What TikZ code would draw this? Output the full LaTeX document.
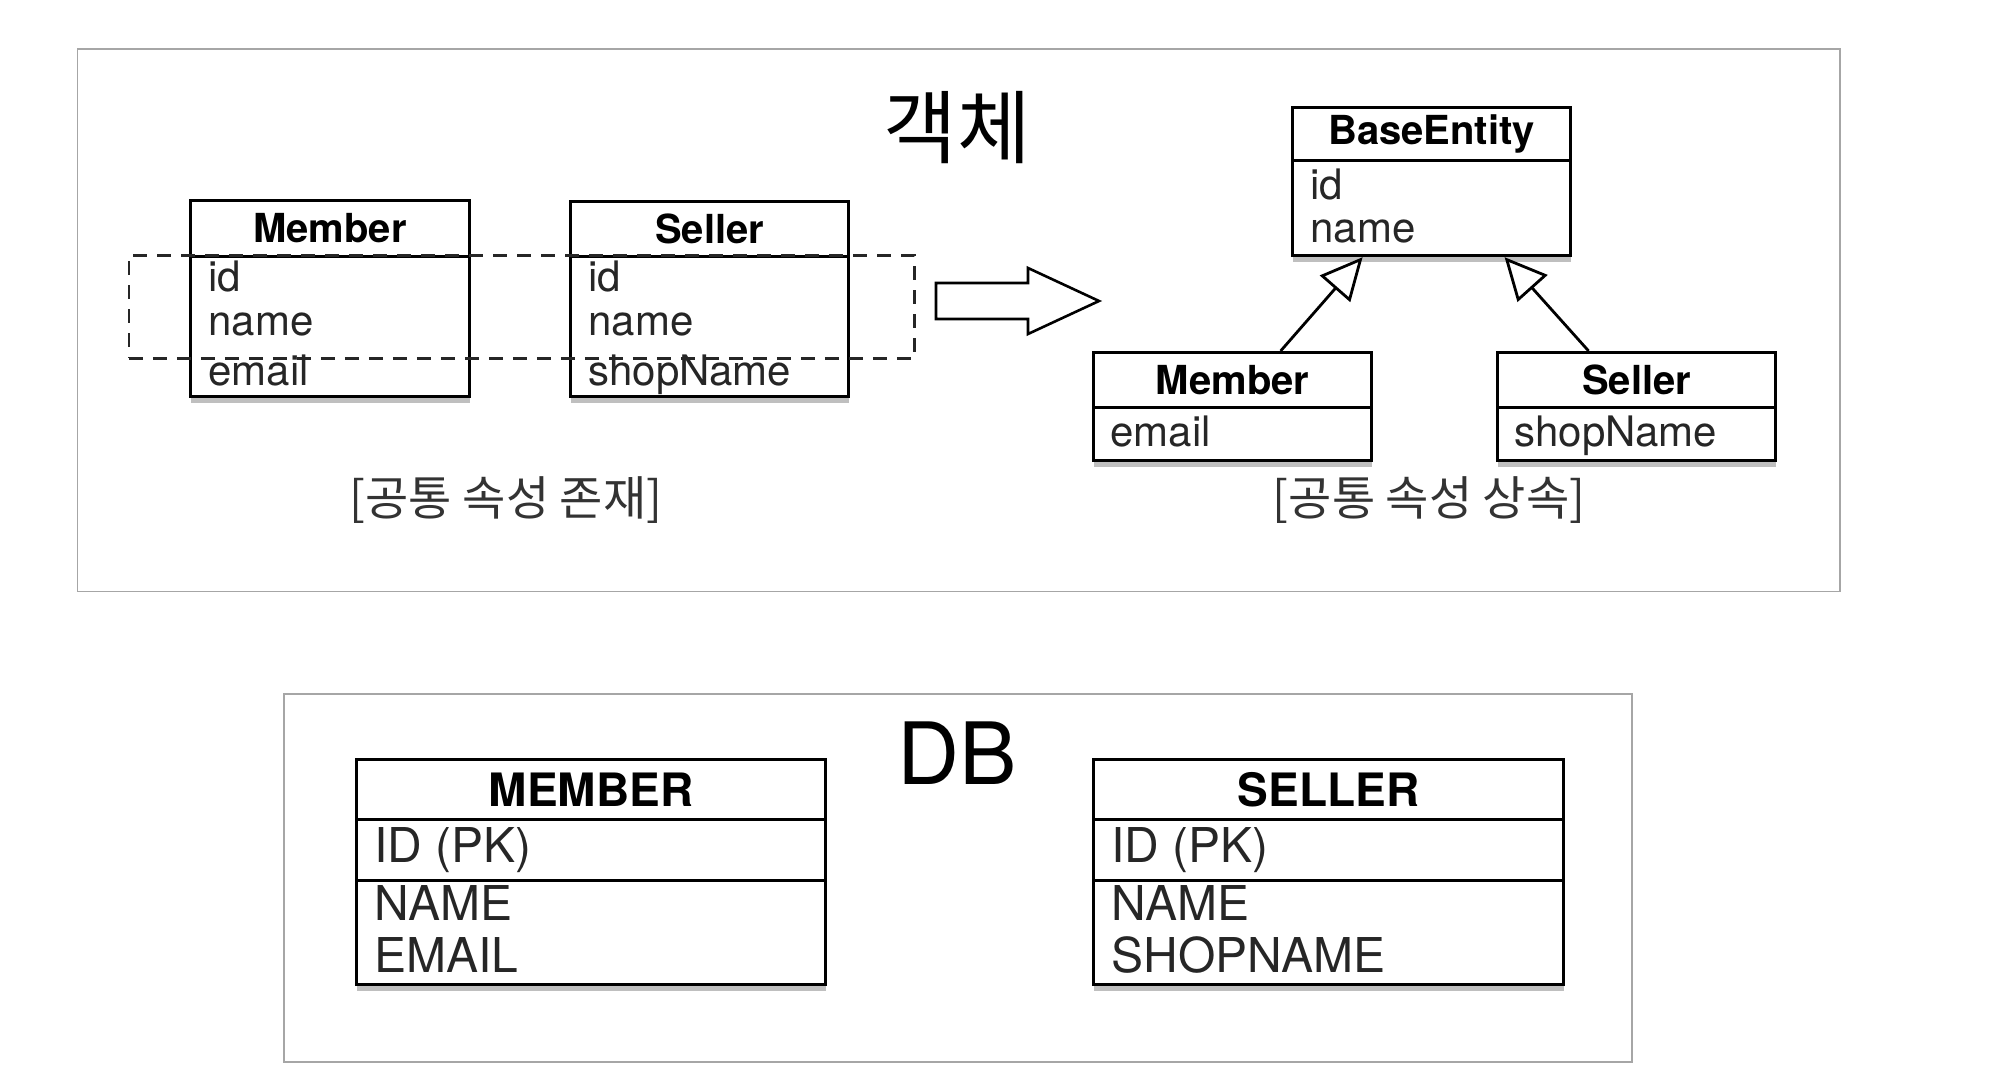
\documentclass[tikz,border=0pt]{standalone}
\usepackage{fontspec}
\setmainfont{TeX Gyre Heros}
\newfontfamily\kr{Noto Sans CJK KR}
\usetikzlibrary{arrows.meta,calc,shadows}
\tikzset{
  frame/.style={draw=black!35,line width=0.8pt,anchor=north west,inner sep=0pt},
  tbl/.style={draw=black,line width=1.6pt,fill=white,anchor=north west,inner sep=0pt},
  shad/.style={drop shadow={shadow xshift=0pt,shadow yshift=-3pt,opacity=0.25,fill=black}},
  hdr/.style={font=\bfseries\fontsize{20}{24}\selectfont},
  attr/.style={anchor=west,inner sep=0pt,text=black!85,font=\fontsize{21}{25}\selectfont},
  dbhdr/.style={font=\bfseries\fontsize{23}{27}\selectfont},
  dbattr/.style={anchor=west,inner sep=0pt,text=black!85,font=\fontsize{24}{28}\selectfont},
  grp/.style={draw=black!85,line width=1.3pt,dash pattern=on 7pt off 5pt,anchor=north west,inner sep=0pt},
  inh/.style={draw=black,line width=1.4pt,-{Triangle[open,length=21pt,width=20pt,line width=1.4pt]}},
  lbl/.style={font=\kr\fontsize{23.5}{27}\selectfont,text=black!80},
  bigarrow/.style={draw=black,line width=1.3pt,fill=white,line join=miter}
}
\begin{document}
\begin{tikzpicture}[x=0.5pt,y=-0.5pt]
\useasboundingbox (0,0) rectangle (2000,1085);
% frames
\node[frame,minimum width=881.25pt,minimum height=271pt] (objframe) at (76.5,48.5) {};
\node[frame,minimum width=674pt,minimum height=184pt] (dbframe) at (283,693) {};
\node[font=\kr\fontsize{40}{44}\selectfont] (objtitle) at (957,128) {객체};
\node[font=\fontsize{43}{48}\selectfont] (dbtitle) at (957,753) {DB};

% left Member
\node[tbl,shad,minimum width=139.5pt,minimum height=70pt] (mb) at (189,255) {};
\node[tbl,hdr,minimum width=139.5pt,minimum height=28pt] (mh) at (189,199) {Member};
\node[attr] (mid) at (208,277) {id};
\node[attr] (mname) at (208,324) {name};
\node[attr] (memail) at (208,371) {email};
% left Seller
\node[tbl,shad,minimum width=139pt,minimum height=70pt] (sb) at (569,255) {};
\node[tbl,hdr,minimum width=139pt,minimum height=27.5pt] (sh) at (569,200) {Seller};
\node[attr] (sid) at (588,277) {id};
\node[attr] (sname) at (588,324) {name};
\node[attr] (sshop) at (588,375) {shopName};
% dashed group
\node[grp,minimum width=392.75pt,minimum height=51.5pt] (common) at (127.5,254) {};
% big arrow
\draw[bigarrow] (936,283) -- (1028,283) -- (1028,268) -- (1099,301) -- (1028,334) -- (1028,319) -- (936,319) -- cycle;
\node[lbl] (lbl1) at (506,500) {[공통 속성 존재]};

% BaseEntity
\node[tbl,shad,minimum width=139pt,minimum height=47.5pt] (beb) at (1291,159) {};
\node[tbl,hdr,minimum width=139pt,minimum height=26.5pt] (beh) at (1291,106) {BaseEntity};
\node[attr] (beid) at (1310,185) {id};
\node[attr] (bename) at (1310,231) {name};
% Member2
\node[tbl,shad,minimum width=139pt,minimum height=26.5pt] (m2b) at (1092,406) {};
\node[tbl,hdr,minimum width=139pt,minimum height=27.5pt] (m2h) at (1092,351) {Member};
\node[attr] (m2email) at (1110,432) {email};
% Seller2
\node[tbl,shad,minimum width=139pt,minimum height=26.5pt] (s2b) at (1496,406) {};
\node[tbl,hdr,minimum width=139pt,minimum height=27.5pt] (s2h) at (1496,351) {Seller};
\node[attr] (s2shop) at (1514,436) {shopName};
% inheritance
\draw[inh] ($(m2h.north)+(48,0)$) -- ($(beb.south)+(-69,0)$);
\draw[inh] ($(s2h.north)+(-48,0)$) -- ($(beb.south)+(73,0)$);
\node[lbl] (lbl2) at (1429,500) {[공통 속성 상속]};

% DB MEMBER
\node[tbl,shad,minimum width=234.5pt,minimum height=52pt] (dmr2) at (355,879) {};
\node[tbl,minimum width=234.5pt,minimum height=30.5pt] (dmr1) at (355,818) {};
\node[tbl,dbhdr,minimum width=234.5pt,minimum height=30pt] (dmh) at (355,758) {MEMBER};
\node[dbattr] (dmid) at (374,850) {ID (PK)};
\node[dbattr] (dmname) at (374,903) {NAME};
\node[dbattr] (dmemail) at (374,955) {EMAIL};
% DB SELLER
\node[tbl,shad,minimum width=235pt,minimum height=52pt] (dsr2) at (1092,879) {};
\node[tbl,minimum width=235pt,minimum height=30.5pt] (dsr1) at (1092,818) {};
\node[tbl,dbhdr,minimum width=235pt,minimum height=30pt] (dsh) at (1092,758) {SELLER};
\node[dbattr] (dsid) at (1111,850) {ID (PK)};
\node[dbattr] (dsname) at (1111,903) {NAME};
\node[dbattr] (dsshop) at (1111,955) {SHOPNAME};
\end{tikzpicture}
\end{document}
